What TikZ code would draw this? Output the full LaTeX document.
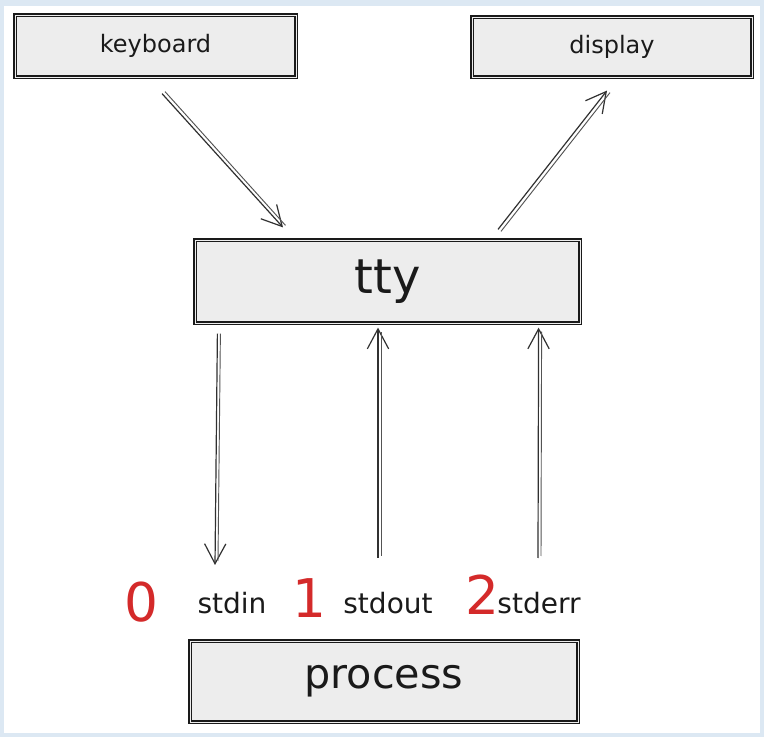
\documentclass[tikz,border=0pt]{standalone}
\usepackage{fontspec}
\setmainfont{DejaVu Sans}
\usetikzlibrary{arrows.meta,calc}
\definecolor{ink}{HTML}{1A1A1A}
\definecolor{boxfill}{HTML}{EDEDED}
\definecolor{redink}{HTML}{D42A2A}
\definecolor{framec}{HTML}{DCE8F3}
\begin{document}
\begin{tikzpicture}[x=0.75pt,y=-0.75pt,
  sketchbox/.style={draw=ink, line width=0.9pt, double=boxfill, double distance=0.7pt, fill=boxfill, inner sep=0pt, text=ink},
  conn/.style={draw=ink!90, line width=0.9pt, -{Straight Barb[length=15pt,width=16pt,line width=0.9pt]}},
  conn2/.style={draw=ink!75, line width=0.7pt},
  lbl/.style={text=ink, font=\fontsize{21}{23}\selectfont, inner sep=0pt},
  num/.style={text=redink, font=\fontsize{40}{42}\selectfont, inner sep=0pt}]
\useasboundingbox (0,0) rectangle (764,737);
\fill[framec] (0,0) rectangle (764,737);
\fill[white] (4,6) rectangle (760,733);

% boxes
\node[sketchbox, minimum width=281*0.75pt, minimum height=62*0.75pt, font=\fontsize{18}{20}\selectfont] (keyboard) at (155.5,46) {keyboard};
\node[sketchbox, minimum width=280*0.75pt, minimum height=60*0.75pt, font=\fontsize{18}{20}\selectfont] (display) at (612,47) {display};
\node[sketchbox, minimum width=385*0.75pt, minimum height=83*0.75pt, font=\fontsize{36}{38}\selectfont] (tty) at (387.5,281.5) {tty};
\node[sketchbox, minimum width=388*0.75pt, minimum height=81*0.75pt, font=\fontsize{31}{33}\selectfont] (process) at (384,681.5) {process};

% labels
\node[lbl] (stdin) at (232,603) {stdin};
\node[lbl] (stdout) at (388,603) {stdout};
\node[lbl] (stderr) at (539,603) {stderr};
\node[num] (n0) at (141,602) {0};
\node[num] (n1) at (309,598) {1};
\node[num] (n2) at (482,595) {2};

% connectors
\draw[conn] ($(keyboard.south)+(6.5,16)$) -- ($(tty.north)+(-104.5,-12)$);
\draw[conn2] ($(keyboard.south)+(9.5,14)$) -- ($(tty.north)+(-102,-14)$);

\draw[conn] ($(tty.north)+(110.5,-10)$) -- ($(display.south)+(-5,13)$);
\draw[conn2] ($(tty.north)+(113.5,-8)$) -- ($(display.south)+(-2,15)$);

\draw[conn] ($(tty.south west)+(23,10)$) -- ($(stdin.center)+(-17,-38)$);
\draw[conn2] ($(tty.south west)+(26,10)$) -- ($(stdin.center)+(-14,-42)$);

\draw[conn] ($(stdout.center)+(-10,-45)$) -- ($(tty.south)+(-9.5,4)$);
\draw[conn2] ($(stdout.center)+(-7,-47)$) -- ($(tty.south)+(-6.5,8)$);

\draw[conn] ($(stderr.center)+(-1,-45)$) -- ($(tty.south east)+(-42,4)$);
\draw[conn2] ($(stderr.center)+(2,-47)$) -- ($(tty.south east)+(-39,8)$);
\end{tikzpicture}
\end{document}
